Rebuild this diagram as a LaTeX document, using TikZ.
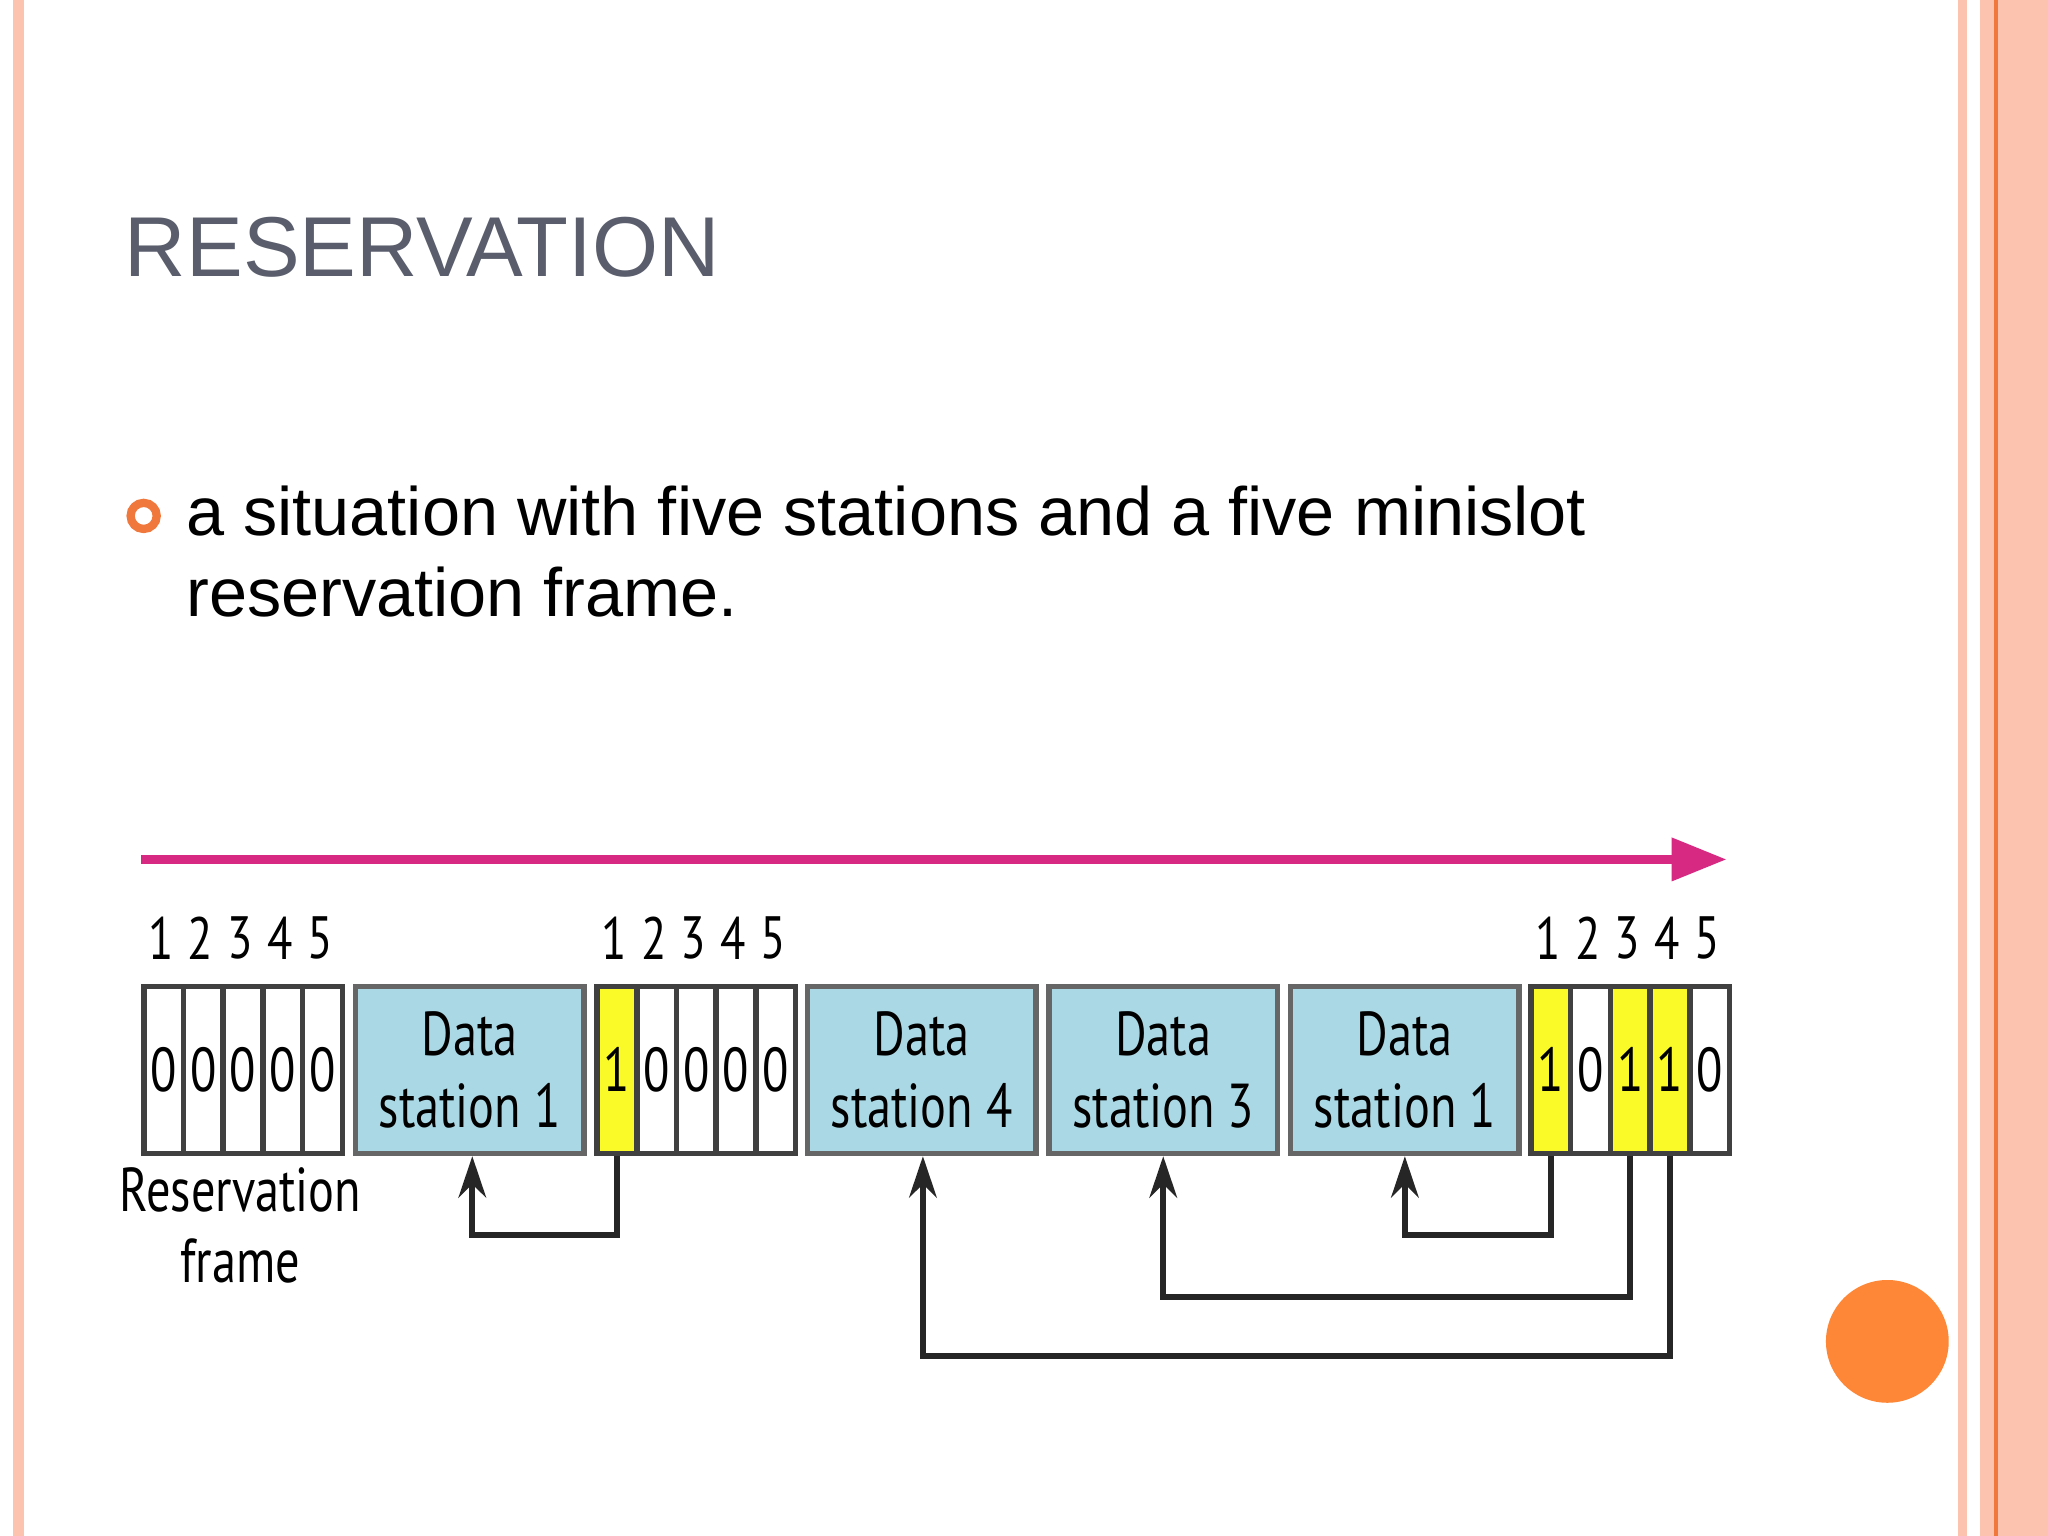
\documentclass[tikz,border=0pt]{standalone}
\usepackage{fontspec}
\setmainfont{Liberation Sans}
\newfontfamily\dfont[FakeStretch=0.78]{PT Sans}
\usetikzlibrary{arrows.meta}
\definecolor{salmon}{RGB}{252,196,174}
\definecolor{oline}{RGB}{240,120,60}
\definecolor{titleg}{RGB}{90,94,108}
\definecolor{dblue}{RGB}{170,216,228}
\definecolor{dyel}{RGB}{250,250,40}
\definecolor{magen}{RGB}{215,40,130}
\definecolor{orng}{RGB}{253,135,55}
\begin{document}
\begin{tikzpicture}[x=0.01cm,y=-0.01cm,
  slot/.style={draw=black!75,line width=1.2pt,minimum width=30.4*0.01cm,minimum height=128*0.01cm,inner sep=0pt,anchor=north west,font=\dfont\fontsize{13.5}{14}\selectfont},
  dbox/.style={draw=black!60,line width=1.2pt,fill=dblue,minimum width=175*0.01cm,minimum height=128*0.01cm,inner sep=0pt,anchor=north west,align=center,font=\dfont\fontsize{13.5}{15.5}\selectfont},
  num/.style={font=\dfont\fontsize{13}{14}\selectfont,inner sep=0pt},
  conn/.style={line width=1.3pt,draw=black!85,-{Stealth[length=9pt,width=6pt]}}]
\useasboundingbox (0,0) rectangle (1568,1176);
\fill[white] (0,0) rectangle (1568,1176);
\fill[salmon] (10,0) rectangle (18,1176);
\fill[salmon] (1499,0) rectangle (1506,1176);
\fill[salmon] (1516,0) rectangle (1568,1176);
\draw[oline,line width=0.8pt] (1528,0) -- (1528,1176);
\node[anchor=base west,inner sep=0pt,text=titleg,font=\fontsize{18.5}{22}\selectfont] (title) at (95,212) {RESERVATION};
\node[draw=oline,line width=1.8pt,circle,minimum size=20*0.01cm,inner sep=0pt] (bul) at (110,395) {};
\node[anchor=base west,inner sep=0pt,font=\fontsize{14.9}{17}\selectfont] (txt1) at (142,410) {a situation with five stations and a five minislot};
\node[anchor=base west,inner sep=0pt,font=\fontsize{14.9}{17}\selectfont] (txt2) at (142,472) {reservation frame.};
\coordinate (a0) at (108,658); \coordinate (a1) at (1322,658);
\draw[magen,line width=2pt,-{Triangle[length=12pt,width=9pt]}] (a0) -- (a1);
\foreach \fx/\nm/\v in {108/f/{0,0,0,0,0},455/g/{1,0,0,0,0},1170/h/{1,0,1,1,0}}{
  \foreach \b [count=\i] in \v {
    \ifnum\b=1 \def\fc{dyel}\else\def\fc{white}\fi
    \node[slot,fill=\fc] (\nm\i) at ({\fx+(\i-1)*30.4},753) {\b};
    \node[num] (\nm n\i) at ({\fx+(\i-0.5)*30.4},718) {\i};
  }
}
\node[dbox] (d1) at (270,753) {Data\\station 1};
\node[dbox] (d4) at (616,753) {Data\\station 4};
\node[dbox] (d3) at (801,753) {Data\\station 3};
\node[dbox] (d1b) at (986,753) {Data\\station 1};
\node[align=center,font=\dfont\fontsize{13.5}{15.5}\selectfont,inner sep=0pt] (rf) at (184,938) {Reservation\\frame};
\draw[conn] (g1.south) -- ++(0,60) -| ([xshift=2*0.01cm]d1.south);
\draw[conn] (h1.south) -- ++(0,60) -| (d1b.south);
\draw[conn] (h3.south) -- ++(0,108) -| (d3.south);
\draw[conn] (h4.south) -- ++(0,153) -| ([xshift=1*0.01cm]d4.south);
\fill[orng] (1445,1027) circle (47);
\end{tikzpicture}
\end{document}
